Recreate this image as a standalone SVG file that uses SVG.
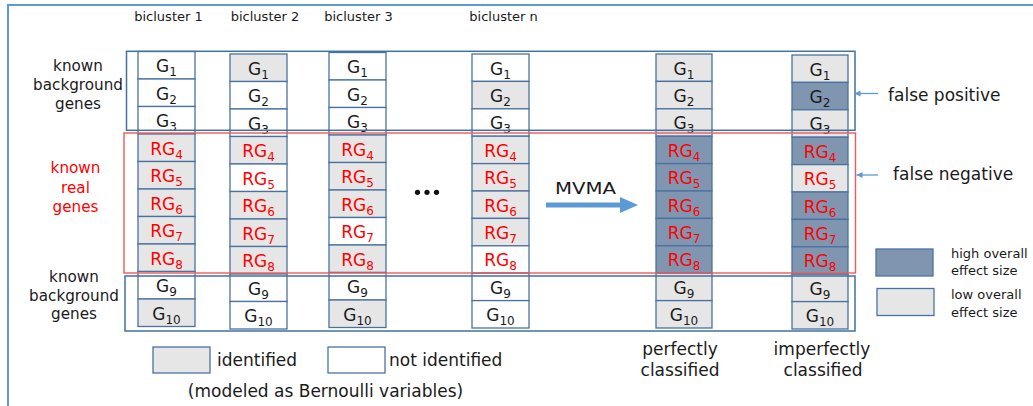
<svg xmlns="http://www.w3.org/2000/svg" width="1033" height="406" viewBox="0 0 1033 406">
<style>
.c{stroke:#4a72a0;stroke-width:1.3}
.w{fill:#ffffff}.g{fill:#e6e6e6}.d{fill:#8096b0}
.t{font-family:"DejaVu Sans",sans-serif;font-size:17px;text-anchor:middle;fill:#1a1a1a}
.r{fill:#ff0000}
.s{font-size:12px}
.l{font-family:"DejaVu Sans",sans-serif;fill:#1a1a1a}
.m{text-anchor:middle}
.box{fill:none;stroke:#41719c;stroke-width:1.5}
.rbox{fill:none;stroke:#f05a5a;stroke-width:1.4}
.frame{stroke:#5b9bd5;stroke-width:2;fill:none}
</style>
<defs>
<marker id="ah" markerUnits="userSpaceOnUse" markerWidth="7" markerHeight="7" refX="6" refY="3" orient="auto"><path d="M0,0 L6,3 L0,6 z" fill="#5b9bd5"/></marker>
</defs>
<rect width="1033" height="406" fill="#ffffff"/>
<path class="frame" d="M8,406 V5 H1033"/>

<g id="headers" class="l" font-size="13">
<text class="m" x="168.5" y="20.5">bicluster 1</text>
<text class="m" x="265" y="20.5">bicluster 2</text>
<text class="m" x="358.5" y="20.5">bicluster 3</text>
<text class="m" x="503.5" y="20.5">bicluster n</text>
</g>
<g id="label-top" class="l m" font-size="15.2">
<text class="m" x="78" y="70.5">known</text>
<text class="m" x="78" y="89.5">background</text>
<text class="m" x="78" y="108.5">genes</text>
</g>
<g id="label-real" class="l" font-size="15.2" fill="#ff0000">
<text class="m r" x="75.5" y="173">known</text>
<text class="m r" x="75.5" y="193">real</text>
<text class="m r" x="75.5" y="212">genes</text>
</g>
<g id="label-bottom" class="l" font-size="15.2">
<text class="m" x="74" y="282">known</text>
<text class="m" x="74" y="301">background</text>
<text class="m" x="74" y="319">genes</text>
</g>

<g id="col1">
<g id="c1-G1"><rect class="c w" x="138" y="51.5" width="57" height="27.5"/><text class="t" x="166.5" y="72">G<tspan class="s" dy="4">1</tspan></text></g>
<g id="c1-G2"><rect class="c w" x="138" y="79" width="57" height="27.5"/><text class="t" x="166.5" y="99.5">G<tspan class="s" dy="4">2</tspan></text></g>
<g id="c1-G3"><rect class="c w" x="138" y="106.5" width="57" height="27.5"/><text class="t" x="166.5" y="127">G<tspan class="s" dy="4">3</tspan></text></g>
<g id="c1-RG4"><rect class="c g" x="138" y="134" width="57" height="27.5"/><text class="t r" x="166.5" y="154.5">RG<tspan class="s" dy="4">4</tspan></text></g>
<g id="c1-RG5"><rect class="c g" x="138" y="161.5" width="57" height="27.5"/><text class="t r" x="166.5" y="182">RG<tspan class="s" dy="4">5</tspan></text></g>
<g id="c1-RG6"><rect class="c g" x="138" y="189" width="57" height="27.5"/><text class="t r" x="166.5" y="209.5">RG<tspan class="s" dy="4">6</tspan></text></g>
<g id="c1-RG7"><rect class="c g" x="138" y="216.5" width="57" height="27.5"/><text class="t r" x="166.5" y="237">RG<tspan class="s" dy="4">7</tspan></text></g>
<g id="c1-RG8"><rect class="c g" x="138" y="244" width="57" height="27.5"/><text class="t r" x="166.5" y="264.5">RG<tspan class="s" dy="4">8</tspan></text></g>
<g id="c1-G9"><rect class="c w" x="138" y="271.5" width="57" height="27.5"/><text class="t" x="166.5" y="292">G<tspan class="s" dy="4">9</tspan></text></g>
<g id="c1-G10"><rect class="c g" x="138" y="299" width="57" height="27.5"/><text class="t" x="166.5" y="319.5">G<tspan class="s" dy="4">10</tspan></text></g>
</g>

<g id="col2">
<g id="c2-G1"><rect class="c g" x="230" y="54" width="57" height="27.5"/><text class="t" x="258.5" y="74.5">G<tspan class="s" dy="4">1</tspan></text></g>
<g id="c2-G2"><rect class="c w" x="230" y="81.5" width="57" height="27.5"/><text class="t" x="258.5" y="102">G<tspan class="s" dy="4">2</tspan></text></g>
<g id="c2-G3"><rect class="c w" x="230" y="109" width="57" height="27.5"/><text class="t" x="258.5" y="129.5">G<tspan class="s" dy="4">3</tspan></text></g>
<g id="c2-RG4"><rect class="c g" x="230" y="136.5" width="57" height="27.5"/><text class="t r" x="258.5" y="157">RG<tspan class="s" dy="4">4</tspan></text></g>
<g id="c2-RG5"><rect class="c w" x="230" y="164" width="57" height="27.5"/><text class="t r" x="258.5" y="184.5">RG<tspan class="s" dy="4">5</tspan></text></g>
<g id="c2-RG6"><rect class="c g" x="230" y="191.5" width="57" height="27.5"/><text class="t r" x="258.5" y="212">RG<tspan class="s" dy="4">6</tspan></text></g>
<g id="c2-RG7"><rect class="c g" x="230" y="219" width="57" height="27.5"/><text class="t r" x="258.5" y="239.5">RG<tspan class="s" dy="4">7</tspan></text></g>
<g id="c2-RG8"><rect class="c g" x="230" y="246.5" width="57" height="27.5"/><text class="t r" x="258.5" y="267">RG<tspan class="s" dy="4">8</tspan></text></g>
<g id="c2-G9"><rect class="c w" x="230" y="274" width="57" height="27.5"/><text class="t" x="258.5" y="294.5">G<tspan class="s" dy="4">9</tspan></text></g>
<g id="c2-G10"><rect class="c w" x="230" y="301.5" width="57" height="27.5"/><text class="t" x="258.5" y="322">G<tspan class="s" dy="4">10</tspan></text></g>
</g>

<g id="col3">
<g id="c3-G1"><rect class="c w" x="329" y="52.5" width="57" height="27.5"/><text class="t" x="357.5" y="73">G<tspan class="s" dy="4">1</tspan></text></g>
<g id="c3-G2"><rect class="c w" x="329" y="80" width="57" height="27.5"/><text class="t" x="357.5" y="100.5">G<tspan class="s" dy="4">2</tspan></text></g>
<g id="c3-G3"><rect class="c w" x="329" y="107.5" width="57" height="27.5"/><text class="t" x="357.5" y="128">G<tspan class="s" dy="4">3</tspan></text></g>
<g id="c3-RG4"><rect class="c g" x="329" y="135" width="57" height="27.5"/><text class="t r" x="357.5" y="155.5">RG<tspan class="s" dy="4">4</tspan></text></g>
<g id="c3-RG5"><rect class="c g" x="329" y="162.5" width="57" height="27.5"/><text class="t r" x="357.5" y="183">RG<tspan class="s" dy="4">5</tspan></text></g>
<g id="c3-RG6"><rect class="c g" x="329" y="190" width="57" height="27.5"/><text class="t r" x="357.5" y="210.5">RG<tspan class="s" dy="4">6</tspan></text></g>
<g id="c3-RG7"><rect class="c w" x="329" y="217.5" width="57" height="27.5"/><text class="t r" x="357.5" y="238">RG<tspan class="s" dy="4">7</tspan></text></g>
<g id="c3-RG8"><rect class="c g" x="329" y="245" width="57" height="27.5"/><text class="t r" x="357.5" y="265.5">RG<tspan class="s" dy="4">8</tspan></text></g>
<g id="c3-G9"><rect class="c w" x="329" y="272.5" width="57" height="27.5"/><text class="t" x="357.5" y="293">G<tspan class="s" dy="4">9</tspan></text></g>
<g id="c3-G10"><rect class="c g" x="329" y="300" width="57" height="27.5"/><text class="t" x="357.5" y="320.5">G<tspan class="s" dy="4">10</tspan></text></g>
</g>

<g id="colN">
<g id="cn-G1"><rect class="c w" x="472" y="54" width="57" height="27.4"/><text class="t" x="500.5" y="74.5">G<tspan class="s" dy="4">1</tspan></text></g>
<g id="cn-G2"><rect class="c g" x="472" y="81.4" width="57" height="27.4"/><text class="t" x="500.5" y="101.9">G<tspan class="s" dy="4">2</tspan></text></g>
<g id="cn-G3"><rect class="c w" x="472" y="108.8" width="57" height="27.4"/><text class="t" x="500.5" y="129.3">G<tspan class="s" dy="4">3</tspan></text></g>
<g id="cn-RG4"><rect class="c g" x="472" y="136.2" width="57" height="27.4"/><text class="t r" x="500.5" y="156.7">RG<tspan class="s" dy="4">4</tspan></text></g>
<g id="cn-RG5"><rect class="c g" x="472" y="163.6" width="57" height="27.4"/><text class="t r" x="500.5" y="184.1">RG<tspan class="s" dy="4">5</tspan></text></g>
<g id="cn-RG6"><rect class="c g" x="472" y="191" width="57" height="27.4"/><text class="t r" x="500.5" y="211.5">RG<tspan class="s" dy="4">6</tspan></text></g>
<g id="cn-RG7"><rect class="c g" x="472" y="218.4" width="57" height="27.4"/><text class="t r" x="500.5" y="238.9">RG<tspan class="s" dy="4">7</tspan></text></g>
<g id="cn-RG8"><rect class="c w" x="472" y="245.8" width="57" height="27.4"/><text class="t r" x="500.5" y="266.3">RG<tspan class="s" dy="4">8</tspan></text></g>
<g id="cn-G9"><rect class="c w" x="472" y="273.2" width="57" height="27.4"/><text class="t" x="500.5" y="293.7">G<tspan class="s" dy="4">9</tspan></text></g>
<g id="cn-G10"><rect class="c w" x="472" y="300.6" width="57" height="27.4"/><text class="t" x="500.5" y="321.1">G<tspan class="s" dy="4">10</tspan></text></g>
</g>

<g id="colPerfect">
<g id="cp-G1"><rect class="c g" x="656" y="54" width="56" height="27.4"/><text class="t" x="684" y="74.5">G<tspan class="s" dy="4">1</tspan></text></g>
<g id="cp-G2"><rect class="c g" x="656" y="81.4" width="56" height="27.4"/><text class="t" x="684" y="101.9">G<tspan class="s" dy="4">2</tspan></text></g>
<g id="cp-G3"><rect class="c g" x="656" y="108.8" width="56" height="27.4"/><text class="t" x="684" y="129.3">G<tspan class="s" dy="4">3</tspan></text></g>
<g id="cp-RG4"><rect class="c d" x="656" y="136.2" width="56" height="27.4"/><text class="t r" x="684" y="156.7">RG<tspan class="s" dy="4">4</tspan></text></g>
<g id="cp-RG5"><rect class="c d" x="656" y="163.6" width="56" height="27.4"/><text class="t r" x="684" y="184.1">RG<tspan class="s" dy="4">5</tspan></text></g>
<g id="cp-RG6"><rect class="c d" x="656" y="191" width="56" height="27.4"/><text class="t r" x="684" y="211.5">RG<tspan class="s" dy="4">6</tspan></text></g>
<g id="cp-RG7"><rect class="c d" x="656" y="218.4" width="56" height="27.4"/><text class="t r" x="684" y="238.9">RG<tspan class="s" dy="4">7</tspan></text></g>
<g id="cp-RG8"><rect class="c d" x="656" y="245.8" width="56" height="27.4"/><text class="t r" x="684" y="266.3">RG<tspan class="s" dy="4">8</tspan></text></g>
<g id="cp-G9"><rect class="c g" x="656" y="273.2" width="56" height="27.4"/><text class="t" x="684" y="293.7">G<tspan class="s" dy="4">9</tspan></text></g>
<g id="cp-G10"><rect class="c g" x="656" y="300.6" width="56" height="27.4"/><text class="t" x="684" y="321.1">G<tspan class="s" dy="4">10</tspan></text></g>
</g>

<g id="colImperfect">
<g id="ci-G1"><rect class="c g" x="792" y="55" width="56" height="27.4"/><text class="t" x="820" y="75.5">G<tspan class="s" dy="4">1</tspan></text></g>
<g id="ci-G2"><rect class="c d" x="792" y="82.4" width="56" height="27.4"/><text class="t" x="820" y="102.9">G<tspan class="s" dy="4">2</tspan></text></g>
<g id="ci-G3"><rect class="c g" x="792" y="109.8" width="56" height="27.4"/><text class="t" x="820" y="130.3">G<tspan class="s" dy="4">3</tspan></text></g>
<g id="ci-RG4"><rect class="c d" x="792" y="137.2" width="56" height="27.4"/><text class="t r" x="820" y="157.7">RG<tspan class="s" dy="4">4</tspan></text></g>
<g id="ci-RG5"><rect class="c g" x="792" y="164.6" width="56" height="27.4"/><text class="t r" x="820" y="185.1">RG<tspan class="s" dy="4">5</tspan></text></g>
<g id="ci-RG6"><rect class="c d" x="792" y="192" width="56" height="27.4"/><text class="t r" x="820" y="212.5">RG<tspan class="s" dy="4">6</tspan></text></g>
<g id="ci-RG7"><rect class="c d" x="792" y="219.4" width="56" height="27.4"/><text class="t r" x="820" y="239.9">RG<tspan class="s" dy="4">7</tspan></text></g>
<g id="ci-RG8"><rect class="c d" x="792" y="246.8" width="56" height="27.4"/><text class="t r" x="820" y="267.3">RG<tspan class="s" dy="4">8</tspan></text></g>
<g id="ci-G9"><rect class="c g" x="792" y="274.2" width="56" height="27.4"/><text class="t" x="820" y="294.7">G<tspan class="s" dy="4">9</tspan></text></g>
<g id="ci-G10"><rect class="c g" x="792" y="301.6" width="56" height="27.4"/><text class="t" x="820" y="322.1">G<tspan class="s" dy="4">10</tspan></text></g>
</g>

<g id="groups">
<rect id="box-top" class="box" x="126.5" y="51.3" width="728.5" height="79"/>
<rect id="box-real" class="rbox" x="124" y="133" width="731.5" height="140"/>
<rect id="box-bottom" class="box" x="125" y="276" width="730" height="55"/>
</g>

<g id="ellipsis" fill="#111">
<circle cx="417.5" cy="192.3" r="2.6"/><circle cx="427" cy="192.3" r="2.6"/><circle cx="436.5" cy="192.3" r="2.6"/>
</g>

<g id="mvma-label" class="l"><text x="555" y="194" font-size="16" textLength="61" lengthAdjust="spacingAndGlyphs">MVMA</text></g>

<g id="connectors">
<polygon points="546,202.5 620,202.5 620,197 638,205 620,213 620,207.5 546,207.5" fill="#5b9bd5"/>
<line x1="878" y1="93.5" x2="854.5" y2="93.5" stroke="#5b9bd5" stroke-width="1.3" marker-end="url(#ah)"/>
<line x1="878" y1="175" x2="856.5" y2="175" stroke="#5b9bd5" stroke-width="1.3" marker-end="url(#ah)"/>
</g>

<g id="annot" class="l" font-size="17">
<text x="888" y="100.5">false positive</text>
<text x="893" y="180">false negative</text>
</g>

<g id="legend-identified">
<rect class="c g" x="153" y="347" width="57" height="26"/>
<text class="l" x="217" y="366" font-size="17">identified</text>
</g>
<g id="legend-notidentified">
<rect class="c w" x="328" y="347" width="57" height="26"/>
<text class="l" x="389" y="366" font-size="17">not identified</text>
</g>
<g id="legend-note"><text class="l m" x="325.5" y="397" font-size="17">(modeled as Bernoulli variables)</text></g>

<g id="label-perfect" class="l" font-size="17">
<text class="m" x="680" y="355">perfectly</text>
<text class="m" x="680" y="376">classified</text>
</g>
<g id="label-imperfect" class="l" font-size="17">
<text class="m" x="822" y="355">imperfectly</text>
<text class="m" x="823" y="376">classified</text>
</g>

<g id="legend-high">
<rect class="c d" x="876" y="249" width="57" height="27"/>
<text class="l" x="951" y="258" font-size="13">high overall</text>
<text class="l" x="951" y="275" font-size="13">effect size</text>
</g>
<g id="legend-low">
<rect class="c g" x="877" y="288.5" width="57" height="27"/>
<text class="l" x="951" y="299" font-size="13">low overall</text>
<text class="l" x="951" y="316.5" font-size="13">effect size</text>
</g>
</svg>
